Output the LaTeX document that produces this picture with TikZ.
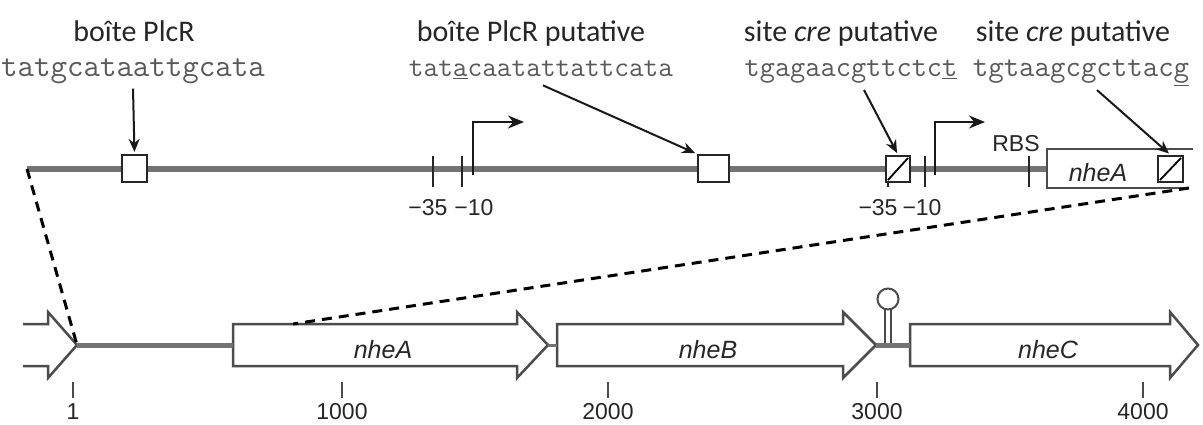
\documentclass[tikz,border=0pt]{standalone}
\usepackage{fontspec}
\setmainfont{Carlito}
\newfontfamily\helv{Liberation Sans}
\usetikzlibrary{arrows.meta}

\tikzstyle{dna}=[draw=black!55,
                 line width=6pt]
\tikzstyle{site}=[shape=rectangle,
                  draw=black!85,
                  fill=white,
                  line width=2.2pt,
                  inner sep=0pt]
\tikzstyle{gene}=[draw=black!70,
                  fill=white,
                  line width=2.5pt,
                  line join=miter]
\tikzstyle{tick}=[draw=black!85,
                  line width=2.2pt]
\tikzstyle{promoter}=[draw=black!90,
                      line width=2.2pt,
                      -{Stealth[length=16pt,width=13pt]}]
\tikzstyle{pointer}=[-{Stealth[length=13pt,width=11pt]},
                     draw=black!90,
                     line width=2pt,
                     shorten >=2pt]
\tikzstyle{zoomline}=[draw=black,
                      line width=3pt,
                      dash pattern=on 10pt off 7pt]
\tikzstyle{lbl}=[font=\fontsize{30}{36}\selectfont,
                 text=black!85,
                 anchor=base,
                 inner sep=0pt]
\tikzstyle{seq}=[font=\ttfamily\fontsize{32}{36}\selectfont,
                 text=black!65,
                 anchor=base,
                 inner sep=0pt]
\tikzstyle{num}=[font=\helv\fontsize{23}{28}\selectfont,
                 text=black!85,
                 inner sep=0pt]
\tikzstyle{genename}=[font=\helv\itshape\fontsize{25}{30}\selectfont,
                      text=black!85,
                      inner sep=0pt]

\begin{document}
\begin{tikzpicture}[x=1pt,y=-1pt]
\useasboundingbox (0,0) rectangle (1203,425);

% promoter region
\coordinate (l0) at (27,169);
\coordinate (l1) at (1047,169);
\draw[dna] (l0) -- (l1);

\foreach \x in {433,462,888,925,1029}
  \draw[tick] (\x,156) -- (\x,187);

\draw[promoter] (473,175) -- (473,122) -- (524,122);
\draw[promoter] (935,175) -- (935,122) -- (985,122);

\node[num] (m35a) at (428,208) {−35};
\node[num] (m10a) at (474,208) {−10};
\node[num] (m35b) at (878,208) {−35};
\node[num] (m10b) at (922,208) {−10};
\node[num] (rbs) at (1016,144) {RBS};

% start of nheA
\draw[gene] (1193,149) -- (1047,149) -- (1047,188) -- (1189,188);
\coordinate (nheAend) at (1189,188);
\node[genename] (nheAtop) at (1098,173) {nheA};

% boxes
\node[site,minimum width=25pt,minimum height=27pt] (plcr1) at (134.5,168.5) {};
\node[site,minimum width=31pt,minimum height=27pt] (plcr2) at (713.5,168.5) {};
\node[site,minimum width=24pt,minimum height=26pt] (cre1) at (898,169) {};
\node[site,minimum width=25pt,minimum height=26pt] (cre2) at (1170.5,169) {};
\draw[line width=1.8pt] ([shift={(3,-3)}]cre1.south west) -- ([shift={(-3,3)}]cre1.north east);
\draw[line width=1.8pt] ([shift={(3,-3)}]cre2.south west) -- ([shift={(-3,3)}]cre2.north east);

% labels and sequences
\node[lbl] (plcr1lbl) at (134,42) {boîte PlcR};
\node[seq] (plcr1seq) at (133,77) {tatgcataattgcata};
\node[lbl] (plcr2lbl) at (531,42) {boîte PlcR putative};
\node[seq,font=\ttfamily\fontsize{28.5}{34}\selectfont] (plcr2seq) at (541,77) {tat\underline{a}caatattattcata};
\node[lbl] (cre1lbl) at (841,42) {site \textit{cre} putative};
\node[seq,font=\ttfamily\fontsize{29.5}{34}\selectfont] (cre1seq) at (851,77) {tgagaacgttctc\underline{t}};
\node[lbl] (cre2lbl) at (1073,42) {site \textit{cre} putative};
\node[seq,font=\ttfamily\fontsize{30}{34}\selectfont] (cre2seq) at (1081,77) {tgtaagcgcttac\underline{g}};

\draw[pointer] ([yshift=-4pt]plcr1seq.south) -- (plcr1.north);
\draw[pointer] ([xshift=2pt,yshift=-6pt]plcr2seq.south) -- (plcr2.north west);
\draw[pointer] ([xshift=13pt,yshift=-6pt]cre1seq.south) -- (cre1.north);
\draw[pointer] ([xshift=16pt,yshift=-4pt]cre2seq.south) -- (cre2.north);

% operon
\draw[gene] (23,324) -- (48,324) -- (48,312) -- (77,345) -- (48,378) -- (48,366) -- (23,366);
\draw[gene] (233,324) -- (517,324) -- (517,312) -- (548,345) -- (517,378) -- (517,366) -- (233,366) -- cycle;
\draw[gene] (557,324) -- (843,324) -- (843,312) -- (876,345) -- (843,378) -- (843,366) -- (557,366) -- cycle;
\draw[gene] (910,324) -- (1170,324) -- (1170,312) -- (1198,345) -- (1170,378) -- (1170,366) -- (910,366) -- cycle;

\coordinate (g0tip) at (77,345);
\coordinate (nheAstart) at (233,345);
\coordinate (nheAtip) at (548,345);
\coordinate (nheBstart) at (557,345);
\coordinate (nheBtip) at (876,345);
\coordinate (nheCstart) at (910,345);
\coordinate (nheAedge) at (293,324);

\draw[dna,line width=5pt] (g0tip) -- (nheAstart);
\draw[dna,line width=3pt] (nheAtip) -- (nheBstart);
\draw[dna,line width=5pt] (nheBtip) -- (nheCstart);

\node[genename] (nheA) at (383,350) {nheA};
\node[genename] (nheB) at (708,350) {nheB};
\node[genename] (nheC) at (1048,350) {nheC};

% terminator
\draw[gene,line width=2pt] (885,343) -- (885,310);
\draw[gene,line width=2pt] (891,343) -- (891,310);
\draw[gene,line width=2pt] (888,299) circle[radius=10.5pt];

% scale
\foreach \x/\n in {73/1,342/1000,608/2000,877/3000,1143/4000}{
  \draw[tick,draw=black!70,line width=2pt] (\x,382) -- (\x,398);
  \node[num] (pos\n) at (\x,412) {\n};
}

% zoom lines
\draw[zoomline] (l0) -- (g0tip);
\draw[zoomline] (nheAend) -- (nheAedge);

\end{tikzpicture}
\end{document}
